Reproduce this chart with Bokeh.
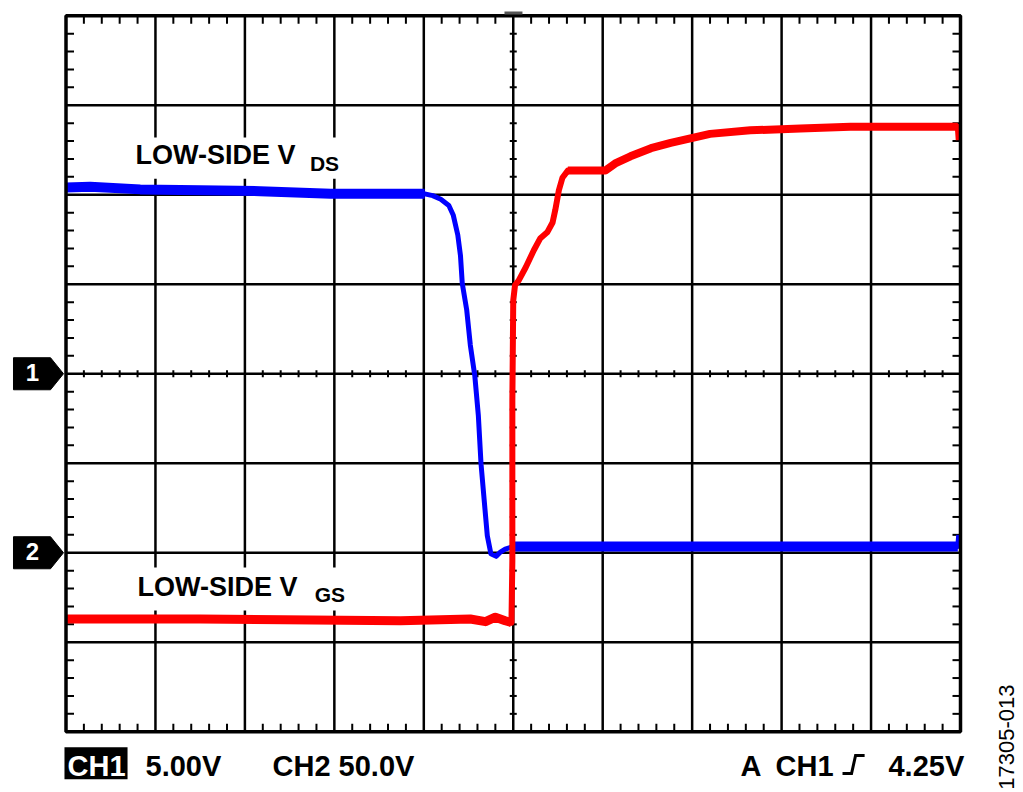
import numpy as np
from bokeh.plotting import figure
from bokeh.models import Label, BoxAnnotation, PolyAnnotation, Range1d
from bokeh.embed import file_html
from bokeh.resources import INLINE

# ---- data (screen divisions: x 0..10, y -4..4) ----
ch1_x = [0.00, 0.27, 0.83, 1.50, 2.17, 2.96, 3.52, 4.01, 4.10, 4.19, 4.28, 4.33, 4.38, 4.41,
         4.43, 4.48, 4.52, 4.57, 4.61, 4.64, 4.68, 4.71, 4.75, 4.81, 4.86, 4.91, 5.00, 5.98,
         7.09, 8.21, 9.33, 9.97, 9.98]
ch1_y = [2.08, 2.09, 2.06, 2.05, 2.04, 2.01, 2.01, 2.01, 1.99, 1.95, 1.88, 1.77, 1.55, 1.32,
         1.01, 0.71, 0.32, -0.02, -0.47, -1.01, -1.47, -1.81, -2.01, -2.04, -1.99, -1.96, -1.93, -1.93,
         -1.93, -1.93, -1.93, -1.93, -1.80]

ch2_x = [0.00, 1.50, 3.74, 4.52, 4.69, 4.80, 4.91, 4.98, 4.99, 4.99, 5.00, 5.02, 5.06, 5.14,
         5.23, 5.30, 5.38, 5.44, 5.47, 5.51, 5.55, 5.61, 5.86, 6.03, 6.14, 6.31, 6.54, 6.76,
         6.98, 7.20, 7.65, 8.21, 8.77, 9.33, 9.97, 9.98]
ch2_y = [-2.74, -2.74, -2.76, -2.74, -2.77, -2.72, -2.76, -2.78, -2.09, -0.30, 0.82, 0.99, 1.04, 1.19,
         1.38, 1.51, 1.58, 1.69, 1.83, 2.05, 2.19, 2.27, 2.27, 2.27, 2.35, 2.43, 2.52, 2.58,
         2.63, 2.68, 2.72, 2.74, 2.76, 2.76, 2.76, 2.61]

ch1_level = 0.0
ch2_level = -2.0
x_divs = list(range(11))
y_divs = list(range(-4, 5))

label_vds = ("LOW-SIDE V", "DS")
label_vgs = ("LOW-SIDE V", "GS")
footer_left = ["CH1", "5.00V", "CH2 50.0V"]
footer_right = ["A", "CH1", "4.25V"]
fig_id = "17305-013"

FONT = "Liberation Sans"
BLUE = "#0000ff"
RED = "#ff0000"

# canvas geometry (pixels) -> divisions
W, H = 1020, 790
X0PX, DXPX = 65.5, 89.45   # left edge of graticule, pixels per division
Y0PX, DYPX = 373.25, 89.5  # centre line, pixels per division
TDY = 10.0 / DYPX          # baseline correction for alphabetic labels

p = figure(width=W, height=H, output_backend="svg", toolbar_location=None,
           x_range=Range1d(-X0PX / DXPX, (W - X0PX) / DXPX),
           y_range=Range1d((Y0PX - H) / DYPX, Y0PX / DYPX),
           x_axis_location=None, y_axis_location=None,
           min_border=0, min_border_left=0, min_border_right=0,
           min_border_top=0, min_border_bottom=0)
p.outline_line_color = None
p.grid.visible = False
p.background_fill_color = "white"
p.border_fill_color = "white"

# ---- graticule ----
gx0 = [v for v in x_divs[1:-1]] + [0 for v in y_divs[1:-1]]
gx1 = [v for v in x_divs[1:-1]] + [10 for v in y_divs[1:-1]]
gy0 = [-4 for v in x_divs[1:-1]] + [v for v in y_divs[1:-1]]
gy1 = [4 for v in x_divs[1:-1]] + [v for v in y_divs[1:-1]]
p.segment(gx0, gy0, gx1, gy1, line_color="black", line_width=2.5)

px = 1 / DXPX
py = 1 / DYPX
mx = np.array([i * 0.2 for i in range(51) if i % 5])
my = np.array([-4 + i * 0.2 for i in range(41) if i % 5])
edge = 8
half = 3.5
x0 = []; y0 = []; x1 = []; y1 = []
for v in mx:
    x0 += [v, v, v]; x1 += [v, v, v]
    y0 += [4, -4, -half * py]; y1 += [4 - edge * py, -4 + edge * py, half * py]
for v in my:
    y0 += [v, v, v]; y1 += [v, v, v]
    x0 += [0, 10, 5 - half * px]; x1 += [edge * px, 10 - edge * px, 5 + half * px]
p.segment(x0, y0, x1, y1, line_color="black", line_width=2)

# ---- traces ----
p.line(ch1_x, ch1_y, line_color=BLUE, line_width=5, line_join="round")
p.line(ch1_x[:8], ch1_y[:8], line_color=BLUE, line_width=10, line_join="round")
p.line(ch1_x[26:32], ch1_y[26:32], line_color=BLUE, line_width=10, line_join="round")

p.line(ch2_x, ch2_y, line_color=RED, line_width=6, line_join="round")
p.line(ch2_x[:8], ch2_y[:8], line_color=RED, line_width=9, line_join="round")
p.line(ch2_x[21:35], ch2_y[21:35], line_color=RED, line_width=8, line_join="round")

# frame
p.rect(x=[5], y=[0], width=10, height=8, fill_color=None, line_color="black", line_width=3.5)

# ---- trace labels with white backgrounds ----
def trace_label(main, sub, x, y, dx, box):
    p.add_layout(BoxAnnotation(left=box[0], right=box[1], bottom=box[2], top=box[3],
                               fill_color="white", fill_alpha=1.0, line_color=None))
    p.add_layout(Label(x=x, y=y + TDY, text=main, text_font=FONT, text_font_style="bold",
                       text_font_size="27px", text_color="black", text_baseline="alphabetic"))
    p.add_layout(Label(x=x + dx, y=y - 0.09 + TDY, text=sub, text_font=FONT, text_font_style="bold",
                       text_font_size="21px", text_color="black", text_baseline="alphabetic"))

trace_label(label_vds[0], label_vds[1], 0.777, 2.327, 1.95, (0.70, 3.18, 2.18, 2.64))
trace_label(label_vgs[0], label_vgs[1], 0.80, -2.489, 1.98, (0.70, 3.24, -2.645, -2.165))

# ---- channel markers ----
for lvl, num in ((ch1_level, "1"), (ch2_level, "2")):
    xs = [-0.587, -0.173, -0.028, -0.173, -0.587]
    ys = [lvl + 0.179, lvl + 0.179, lvl, lvl - 0.179, lvl - 0.179]
    p.add_layout(PolyAnnotation(xs=xs, ys=ys, fill_color="black", fill_alpha=1.0,
                                line_color="black", line_alpha=1.0, line_width=1))
    p.add_layout(Label(x=-0.374, y=lvl + 0.01, text=num, text_font=FONT, text_font_style="bold",
                       text_font_size="24px", text_color="white", text_align="center",
                       text_baseline="middle"))

# trigger position marker above the frame
p.add_layout(PolyAnnotation(xs=[4.902, 5.103, 5.103, 4.902], ys=[4.048, 4.048, 4.014, 4.014],
                            fill_color="#555555", fill_alpha=1.0, line_color=None))

# ---- footer ----
fy = -4.497 + TDY
p.add_layout(BoxAnnotation(left=-0.017, right=0.688, bottom=-4.53, top=-4.174,
                           fill_color="black", fill_alpha=1.0, line_color=None))
p.add_layout(Label(x=0.017, y=fy, text=footer_left[0], text_font=FONT, text_font_style="bold",
                   text_font_size="29px", text_color="white", text_baseline="alphabetic"))
p.add_layout(Label(x=0.889, y=fy, text=footer_left[1], text_font=FONT, text_font_style="bold",
                   text_font_size="29px", text_color="black", text_baseline="alphabetic"))
p.add_layout(Label(x=2.309, y=fy, text=footer_left[2], text_font=FONT, text_font_style="bold",
                   text_font_size="29px", text_color="black", text_baseline="alphabetic"))
p.add_layout(Label(x=7.54, y=fy, text=footer_right[0], text_font=FONT, text_font_style="bold",
                   text_font_size="29px", text_color="black", text_baseline="alphabetic"))
p.add_layout(Label(x=7.932, y=fy, text=footer_right[1], text_font=FONT, text_font_style="bold",
                   text_font_size="29px", text_color="black", text_baseline="alphabetic"))
p.add_layout(Label(x=9.195, y=fy, text=footer_right[2], text_font=FONT, text_font_style="bold",
                   text_font_size="29px", text_color="black", text_baseline="alphabetic"))
# rising-edge trigger symbol
sx = [8.681, 8.782, 8.827, 8.928]
sy = [-4.466, -4.466, -4.265, -4.265]
p.line(sx, sy, line_color="black", line_width=3, line_join="miter")

p.add_layout(Label(x=10.514, y=-4.06, text=fig_id, text_font=FONT, text_font_size="22px",
                   text_color="black", angle=np.pi / 2, text_align="center",
                   text_baseline="middle"))

open("out.html", "w").write(file_html(p, INLINE))
